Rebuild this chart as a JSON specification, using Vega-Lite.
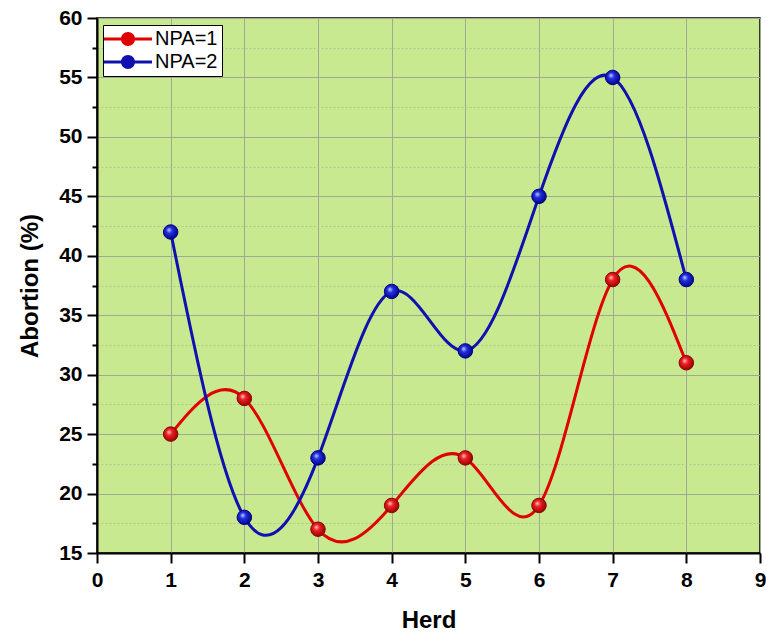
{
  "$schema": "https://vega.github.io/schema/vega-lite/v6.json",
  "width": 663,
  "height": 535,
  "autosize": {"type": "none"},
  "padding": {"left": 97, "top": 18, "right": 6, "bottom": 82},
  "background": "white",
  "config": {
    "font": "Liberation Sans",
    "view": {"fill": "#c9e991", "stroke": "black", "strokeWidth": 1.5}
  },
  "data": {
    "values": [
      {"herd": 1, "abortion": 25, "series": "NPA=1"},
      {"herd": 2, "abortion": 28, "series": "NPA=1"},
      {"herd": 3, "abortion": 17, "series": "NPA=1"},
      {"herd": 4, "abortion": 19, "series": "NPA=1"},
      {"herd": 5, "abortion": 23, "series": "NPA=1"},
      {"herd": 6, "abortion": 19, "series": "NPA=1"},
      {"herd": 7, "abortion": 38, "series": "NPA=1"},
      {"herd": 8, "abortion": 31, "series": "NPA=1"},
      {"herd": 1, "abortion": 42, "series": "NPA=2"},
      {"herd": 2, "abortion": 18, "series": "NPA=2"},
      {"herd": 3, "abortion": 23, "series": "NPA=2"},
      {"herd": 4, "abortion": 37, "series": "NPA=2"},
      {"herd": 5, "abortion": 32, "series": "NPA=2"},
      {"herd": 6, "abortion": 45, "series": "NPA=2"},
      {"herd": 7, "abortion": 55, "series": "NPA=2"},
      {"herd": 8, "abortion": 38, "series": "NPA=2"}
    ]
  },
  "encoding": {
    "x": {
      "field": "herd", "type": "quantitative",
      "scale": {"domain": [0, 9], "nice": false, "zero": false},
      "axis": {
        "title": "Herd",
        "values": [0,0.5,1,1.5,2,2.5,3,3.5,4,4.5,5,5.5,6,6.5,7,7.5,8,8.5,9],
        "format": "d",
        "labelExpr": "datum.value % 1 === 0 ? format(datum.value, 'd') : ''",
        "labelFontSize": 21, "labelFontWeight": "bold", "labelColor": "black",
        "labelPadding": 6, "labelFlush": false,
        "titleFontSize": 24, "titleFontWeight": "bold", "titleColor": "black", "titlePadding": 18,
        "domainColor": "black", "domainWidth": 2,
        "tickColor": "black", "tickWidth": 2,
        "tickSize": {"condition": {"test": "datum.value % 1 !== 0", "value": 5}, "value": 10},
        "grid": true,
        "gridColor": {"condition": {"test": "datum.value % 1 !== 0", "value": "#aec693"}, "value": "#9faa92"},
        "gridDash": {"condition": {"test": "datum.value % 1 !== 0", "value": [2, 2]}, "value": []},
        "gridWidth": 1
      }
    },
    "y": {
      "field": "abortion", "type": "quantitative",
      "scale": {"domain": [15, 60], "nice": false, "zero": false},
      "axis": {
        "title": "Abortion (%)",
        "values": [15,17.5,20,22.5,25,27.5,30,32.5,35,37.5,40,42.5,45,47.5,50,52.5,55,57.5,60],
        "labelExpr": "datum.value % 5 === 0 ? format(datum.value, 'd') : ''",
        "labelFontSize": 21, "labelFontWeight": "bold", "labelColor": "black",
        "labelPadding": 5, "labelFlush": false,
        "titleFontSize": 24, "titleFontWeight": "bold", "titleColor": "black", "titlePadding": 16,
        "domainColor": "black", "domainWidth": 2,
        "tickColor": "black", "tickWidth": 2,
        "tickSize": {"condition": {"test": "datum.value % 5 !== 0", "value": 5}, "value": 10},
        "grid": true,
        "gridColor": {"condition": {"test": "datum.value % 5 !== 0", "value": "#aec693"}, "value": "#9faa92"},
        "gridDash": {"condition": {"test": "datum.value % 5 !== 0", "value": [2, 2]}, "value": []},
        "gridWidth": 1
      }
    }
  },
  "layer": [
    {
      "mark": {"type": "line", "interpolate": "natural", "strokeWidth": 3},
      "encoding": {
        "color": {
          "field": "series", "type": "nominal",
          "scale": {"domain": ["NPA=1", "NPA=2"], "range": ["#e00000", "#1010b0"]},
          "legend": {
            "title": null,
            "orient": "none",
            "legendX": 6,
            "legendY": 7,
            "fillColor": "white",
            "strokeColor": "black",
            "padding": 4,
            "labelFontSize": 20,
            "labelColor": "black",
            "labelFont": "Liberation Sans",
            "symbolType": "M-2.4,-0.15L2.4,-0.15L2.4,0.15L-2.4,0.15Z M0.7,0A0.7,0.7 0 1,1 -0.7,0A0.7,0.7 0 1,1 0.7,0Z",
            "symbolSize": 400,
            "symbolStrokeWidth": 0,
            "symbolOffset": 11,
            "labelOffset": 17,
            "rowPadding": 3,
            "encode": {
              "symbols": {
                "update": {
                  "fill": {"scale": "color", "field": "value"},
                  "strokeWidth": {"value": 0},
                  "opacity": {"value": 1}
                }
              }
            }
          }
        }
      }
    },
    {
      "transform": [{"filter": "datum.series === 'NPA=1'"}],
      "mark": {
        "type": "point", "filled": true, "size": 210, "opacity": 1,
        "stroke": "#8a0000", "strokeWidth": 1,
        "fill": {
          "gradient": "radial",
          "x1": 0.38, "y1": 0.35, "r1": 0,
          "x2": 0.45, "y2": 0.45, "r2": 0.6,
          "stops": [
            {"offset": 0, "color": "#ffc8c8"},
            {"offset": 0.35, "color": "#ee2020"},
            {"offset": 1, "color": "#900000"}
          ]
        }
      }
    },
    {
      "transform": [{"filter": "datum.series === 'NPA=2'"}],
      "mark": {
        "type": "point", "filled": true, "size": 210, "opacity": 1,
        "stroke": "#00007a", "strokeWidth": 1,
        "fill": {
          "gradient": "radial",
          "x1": 0.38, "y1": 0.35, "r1": 0,
          "x2": 0.45, "y2": 0.45, "r2": 0.6,
          "stops": [
            {"offset": 0, "color": "#c8d0ff"},
            {"offset": 0.35, "color": "#2030e0"},
            {"offset": 1, "color": "#000080"}
          ]
        }
      }
    }
  ]
}
